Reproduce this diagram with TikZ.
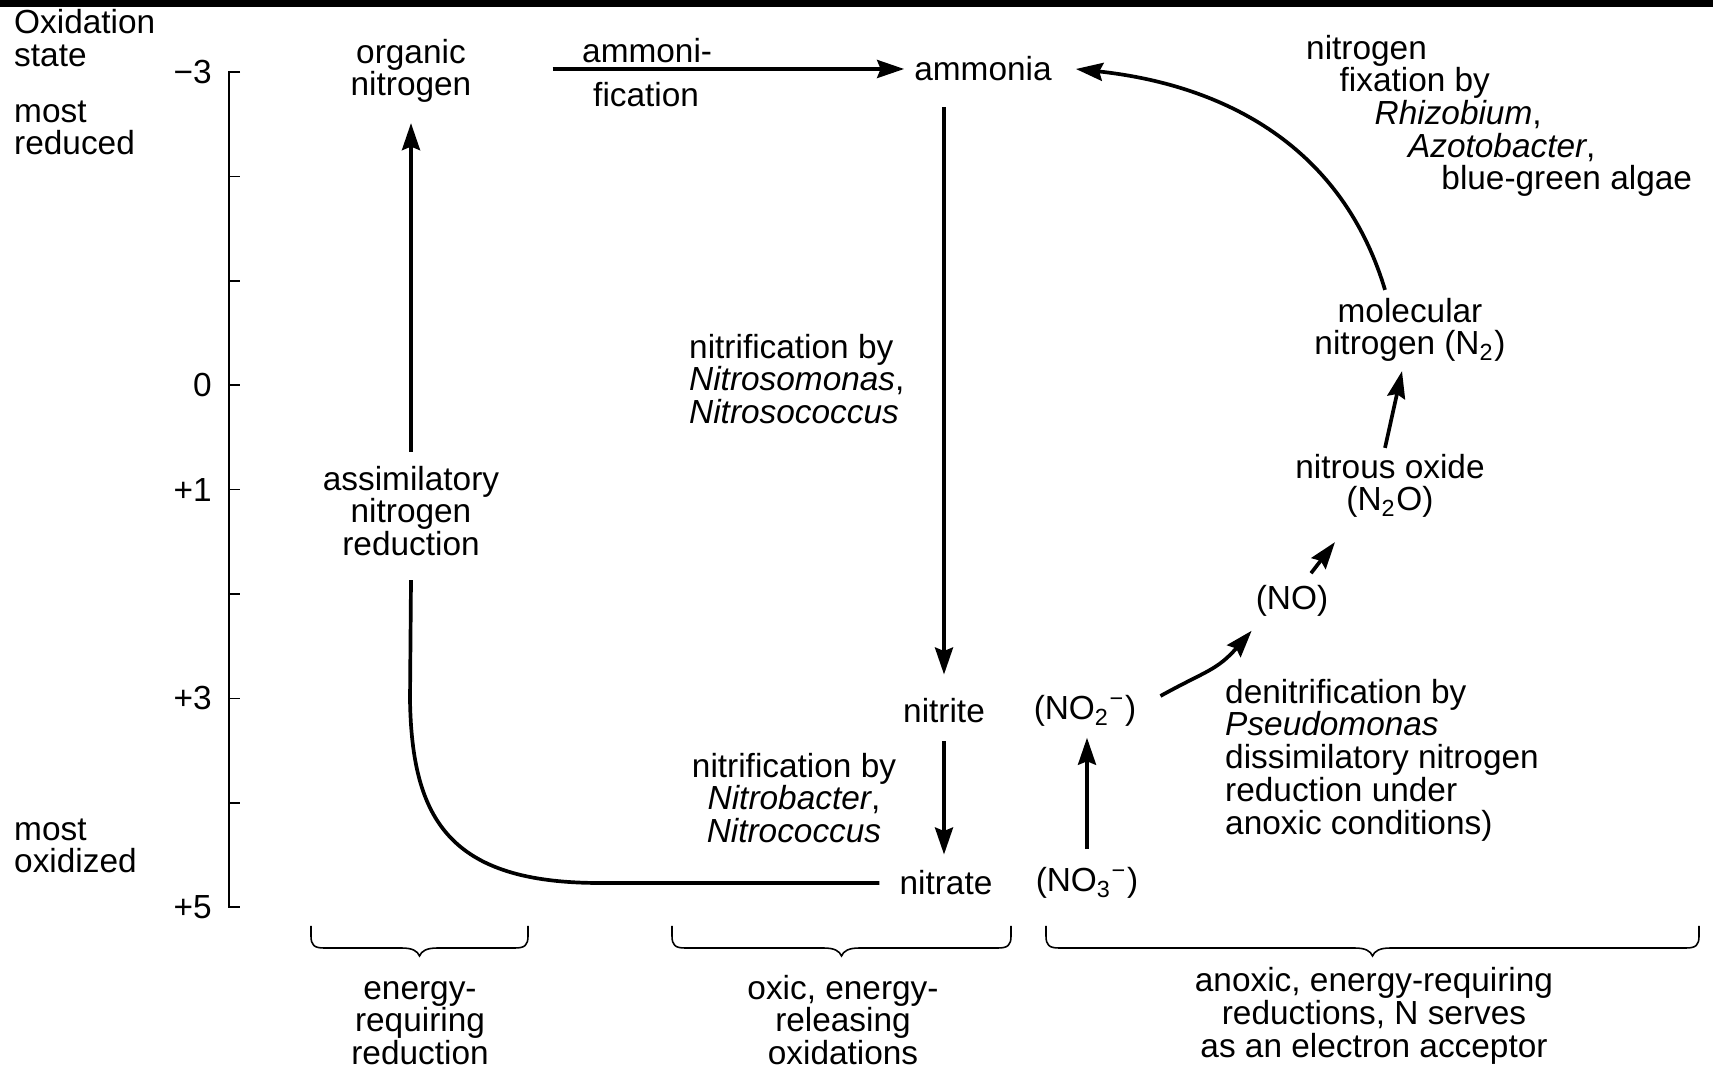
\documentclass[tikz,border=0pt]{standalone}
\usepackage{fontspec}
\setmainfont{Liberation Sans}
\usetikzlibrary{arrows.meta}

% brace open at the top, tip pointing down: #1 name of tip, #2 left x, #3 right x, #4 top y
\newcommand{\spanbrace}[4]{%
  \pgfmathsetmacro{\brmid}{(#2+#3)/2}
  \draw[bracket] (#2,#4) -- (#2,#4+10)
    .. controls (#2,#4+19) and (#2+3,#4+22) .. (#2+13,#4+22)
    -- (\brmid-18,#4+22)
    .. controls (\brmid-7,#4+22) and (\brmid-2,#4+25) .. (\brmid,#4+30)
    .. controls (\brmid+2,#4+25) and (\brmid+7,#4+22) .. (\brmid+18,#4+22)
    -- (#3-13,#4+22)
    .. controls (#3-3,#4+22) and (#3,#4+19) .. (#3,#4+10) -- (#3,#4);
  \coordinate (#1) at (\brmid,#4+30);}

\begin{document}
\begin{tikzpicture}[x=0.1mm,y=-0.1mm,
    >={Stealth[length=2.7mm,width=1.8mm,inset=0.35mm]},
    every node/.style={font=\fontsize{9.5}{9.3}\selectfont,inner sep=1pt},
    flow/.style={->,line width=1.05pt},
    route/.style={line width=1.05pt},
    scaleline/.style={line width=0.45pt},
    bracket/.style={line width=0.45pt},
    txt/.style={align=left,anchor=west},
    ctr/.style={align=center}]

  \useasboundingbox (0,0) rectangle (1713,1071);
  \fill (0,0) rectangle (1713,7);

  % oxidation-state scale
  \draw[scaleline] (240,72) -- (229,72) -- (229,907) -- (240,907);
  \foreach \k in {1,...,7}
    \draw[scaleline] (229,{72+104.4*\k}) -- ++(11,0);
  \foreach \k/\val in {0/−3,3/0,4/+1,6/+3,8/+5}
    \node[anchor=east] (ox\k) at (216,{72+104.4*\k}) {\val};

  \node[txt] (oxstate) at (10,38) {Oxidation\\state};
  \node[txt] (reduced) at (10,128) {most\\reduced};
  \node[txt] (oxidized) at (10,846) {most\\oxidized};

  % nitrogen compounds
  \node[ctr] (organic) at (411,71) {organic\\nitrogen};
  \node (ammonia) at (983,69) {ammonia};
  \node (nitrite) at (944,711) {nitrite};
  \node (no2) at (1085,711) {(NO\textsubscript{2}\textsuperscript{−})};
  \node (nitrate) at (946,883) {nitrate};
  \node (no3) at (1087,883) {(NO\textsubscript{3}\textsuperscript{−})};
  \node (no) at (1292,601) {(NO)};
  \node[ctr] (n2o) at (1390,486) {nitrous oxide\\(N\textsubscript{2}O)};
  \node[ctr] (n2) at (1410,330) {molecular\\nitrogen (N\textsubscript{2})};

  % processes
  \node[txt] (ammoni) at (578,51) {ammoni-};
  \node[txt] (fication) at (589,95) {fication};
  \node[txt] (nitroso) at (685,379)
    {nitrification by\\\textit{Nitrosomonas},\\\textit{Nitrosococcus}};
  \node[ctr] (nitrob) at (794,798)
    {nitrification by\\\textit{Nitrobacter},\\\textit{Nitrococcus}};
  \node[ctr] (assim) at (411,511) {assimilatory\\nitrogen\\reduction};
  \node[txt] (fixation) at (1302,116)
    {nitrogen\\\hspace*{1em}fixation by\\\hspace*{2.05em}\textit{Rhizobium},\\
     \hspace*{3.05em}\textit{Azotobacter},\\\hspace*{4.05em}blue-green algae};
  \node[txt] (denitr) at (1221,760)
    {denitrification by\\\textit{Pseudomonas}\\dissimilatory nitrogen\\
     reduction under\\anoxic conditions)};

  % connectors
  \draw[flow,shorten <=7.7mm,shorten >=0.6mm] (organic.east |- ammonia.west) -- (ammonia.west);
  \draw[flow,shorten <=2.2mm,shorten >=2mm] (nitrite.north |- ammonia.south) -- (nitrite.north);
  \draw[flow,shorten <=1.4mm,shorten >=1.2mm] (nitrite.south) -- (nitrite.south |- nitrate.north);
  \draw[flow,shorten <=1.4mm,shorten >=0.7mm] (no3.north) -- (no3.north |- no2.south);
  \draw[flow] ([xshift=2mm,yshift=1.5mm]no2.east)
    .. controls +(45,-25) and +(-35,40) .. ([yshift=-1mm]no.south west);
  \draw[flow] ([xshift=1.9mm,yshift=0.8mm]no.north) -- ([xshift=-5.5mm,yshift=-2mm]n2o.south);
  \draw[flow] ([xshift=-0.5mm,yshift=0.2mm]n2o.north) -- ([xshift=-0.8mm,yshift=-0.5mm]n2.south);
  \draw[flow] ([xshift=-2.5mm,yshift=0.4mm]n2.north)
    .. controls +(-45,-150) and +(140,15) .. ([xshift=2mm]ammonia.east);
  % assimilation runs round the corner, broken by its label
  \draw[route,shorten <=1.6mm] (nitrate.west) -- (600,883)
    .. controls (450,883) and (412,820) .. (410,700) -- ([yshift=-2mm]assim.south);
  \draw[flow,shorten <=1mm,shorten >=1.6mm] (assim.north) -- (organic.south);

  % ranges
  \spanbrace{b1}{311}{528}{926}
  \spanbrace{b2}{672}{1011}{926}
  \spanbrace{b3}{1046}{1699}{926}
  \node[ctr] (energyreq) at (420,1023) {energy-\\requiring\\reduction};
  \node[ctr] (oxic) at (843,1020) {oxic, energy-\\releasing\\oxidations};
  \node[ctr] (anoxic) at (1374,1016)
    {anoxic, energy-requiring\\reductions, N serves\\as an electron acceptor};
\end{tikzpicture}
\end{document}
